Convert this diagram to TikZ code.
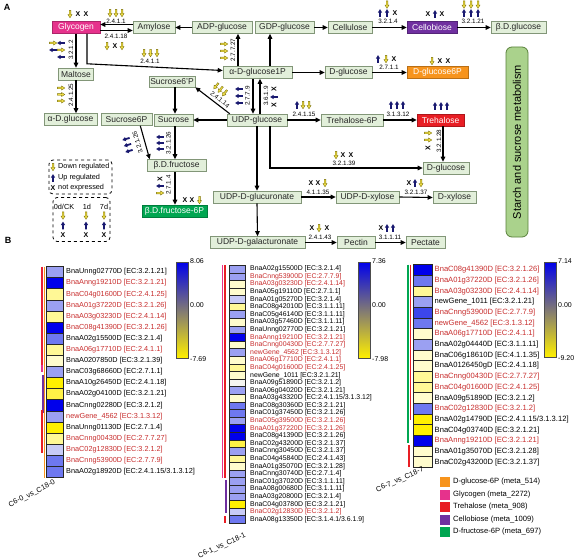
\documentclass[tikz,border=0pt]{standalone}
\usepackage{fontspec}
\setmainfont{Liberation Sans}
\usetikzlibrary{arrows.meta,calc}
\definecolor{boxfill}{RGB}{226,239,218}
\definecolor{boxdraw}{RGB}{130,150,120}
\definecolor{glyc}{RGB}{230,50,140}
\definecolor{cello}{RGB}{112,48,160}
\definecolor{gsixp}{RGB}{247,148,29}
\definecolor{treh}{RGB}{232,30,36}
\definecolor{fsixp}{RGB}{0,166,81}
\definecolor{ylw}{RGB}{240,222,70}
\definecolor{ylwd}{RGB}{130,120,20}
\definecolor{nvy}{RGB}{25,25,112}
\definecolor{rt}{RGB}{200,45,45}
\definecolor{kt}{RGB}{0,0,0}
\definecolor{bfive}{RGB}{0,0,235}
\definecolor{bfour}{RGB}{60,70,235}
\definecolor{bthree}{RGB}{110,120,240}
\definecolor{btwo}{RGB}{155,160,242}
\definecolor{bone}{RGB}{200,203,247}
\definecolor{wzero}{RGB}{245,245,240}
\definecolor{yone}{RGB}{255,252,205}
\definecolor{ytwo}{RGB}{255,248,150}
\definecolor{ythree}{RGB}{255,242,70}
\definecolor{yfour}{RGB}{255,240,0}
\definecolor{starchf}{RGB}{170,210,140}
\definecolor{starchd}{RGB}{90,130,60}
\newcommand\myfs[1]{\fontsize{#1}{#1}\selectfont}
\begin{document}
\begin{tikzpicture}[x=1pt,y=-1pt,
  box/.style={draw=boxdraw, fill=boxfill, line width=0.6pt, minimum height=12pt, inner sep=0pt, font=\myfs{8.5}, text=black!85},
  cbox/.style={box, draw=#1!75!black, fill=#1, text=white},
  ar/.style={line width=1.1pt, -{Triangle[length=5pt,width=4.5pt]}},
  ec/.style={font=\myfs{6.3}, inner sep=0pt},
  lab/.style={inner sep=0pt, anchor=west},
  hcell/.style={draw=black!85, line width=0.5pt, inner sep=0pt},
  dn/.pic={\filldraw[fill=ylw, draw=ylwd, line width=0.4pt] (-0.8,-3.6) -- (0.8,-3.6) -- (0.8,0.6) -- (2,0.6) -- (0,3.8) -- (-2,0.6) -- (-0.8,0.6) -- cycle;},
  up/.pic={\fill[nvy] (-0.9,3.8) -- (0.9,3.8) -- (0.9,-0.4) -- (2.2,-0.4) -- (0,-3.8) -- (-2.2,-0.4) -- (-0.9,-0.4) -- cycle;},
  xx/.pic={\node[font=\myfs{7}\bfseries, inner sep=0pt, transform shape] {X};}
]
\useasboundingbox (0,0) rectangle (581,559);
\fill[white] (0,0) rectangle (581,559);

% ---------- Panel A ----------
\node[font=\myfs{9}\bfseries, inner sep=0pt] (pa) at (7,7) {A};

\node[cbox=glyc, minimum width=48pt] (glycogen) at (76,27.5) {Glycogen};
\node[box, minimum width=42pt] (amylose) at (154,27.5) {Amylose};
\node[box, minimum width=60pt] (adpg) at (222,27.5) {ADP-glucose};
\node[box, minimum width=59pt] (gdpg) at (284.5,27.5) {GDP-glucose};
\node[box, minimum width=44pt] (cellulose) at (350,27.5) {Cellulose};
\node[cbox=cello, minimum width=50pt] (cellobiose) at (432,27.5) {Cellobiose};
\node[box, minimum width=55pt] (bdglc) at (518.5,27.5) {β.D.glucose};
\node[box, minimum width=35pt] (maltose) at (76,74) {Maltose};
\node[box, minimum width=46pt, minimum height=11pt] (suc6pp) at (172,81.5) {Sucrose6'P};
\node[box, minimum width=69pt] (adgonep) at (257.5,72.5) {α-D-glucose1P};
\node[box, minimum width=47pt] (dglc) at (348.5,72.5) {D-glucose};
\node[cbox=gsixp, minimum width=61pt] (dglcsixp) at (437.5,72.5) {D-glucose6P};
\node[box, minimum width=53pt] (adglc) at (70.5,119.5) {α-D.glucose};
\node[box, minimum width=51pt] (sucsixp) at (126.5,119.5) {Sucrose6P};
\node[box, minimum width=39pt] (suc) at (173.5,120) {Sucrose};
\node[box, minimum width=60pt] (udpg) at (257,120) {UDP-glucose};
\node[box, minimum width=62pt] (tresixp) at (352,120) {Trehalose-6P};
\node[cbox=treh, minimum width=47pt] (tre) at (440.5,120) {Trehalose};
\node[box, minimum width=59pt] (bdfru) at (176.5,165.5) {β.D.fructose};
\node[box, minimum width=46pt] (dglctwo) at (446,168) {D-glucose};
\node[cbox=fsixp, minimum width=65pt] (bdfrusixp) at (174.5,211) {β.D.fructose-6P};
\node[box, minimum width=88pt] (udpglca) at (257,197) {UDP-D-glucuronate};
\node[box, minimum width=63pt] (udpxyl) at (367.5,197) {UDP-D-xylose};
\node[box, minimum width=43pt] (dxyl) at (454.5,197.5) {D-xylose};
\node[box, minimum width=95pt] (udpgala) at (257.5,242.5) {UDP-D-galacturonate};
\node[box, minimum width=38pt] (pectin) at (356,242.5) {Pectin};
\node[box, minimum width=39pt] (pectate) at (425.5,242.5) {Pectate};

\node[draw=starchd, fill=starchf, rounded corners=6pt, line width=0.8pt, minimum width=190pt, minimum height=22pt, rotate=90, font=\myfs{11}, inner sep=0pt] (starch) at (517,142) {Starch and sucrose metabolism};

% connectors
\draw[ar] ($(amylose.west)+(0,-3)$) -- ($(glycogen.east)+(0,-3)$);
\draw[ar] ($(glycogen.east)+(0,3)$) -- ($(amylose.west)+(0,3)$);
\draw[ar] (adpg.west) -- (amylose.east);
\draw[ar] (gdpg.east) -- (cellulose.west);
\draw[ar] (cellulose.east) -- (cellobiose.west);
\draw[ar] (cellobiose.east) -- (bdglc.west);
\draw[ar] (glycogen.south) -- (maltose.north);
\draw[ar] ($(glycogen.south)+(11,0)$) -- ++(0,30) -- ($(adgonep.west)+(0,-2)$);
\draw[ar] (maltose.south) -- (maltose.south |- adglc.north);
\coordinate (ca) at ($(adgonep.north)+(-19.5,0)$);
\draw[ar] (ca) -- (ca |- adpg.south);
\coordinate (cb) at ($(adgonep.north)+(12.5,0)$);
\draw[ar] (cb) -- (cb |- gdpg.south);
\draw[ar] (adgonep.east) -- (dglc.west);
\draw[ar] (dglc.east) -- (dglcsixp.west);
\coordinate (cc) at ($(adgonep.south)+(-4.5,0)$);
\draw[ar] (cc) -- (cc |- udpg.north);
\coordinate (cd) at ($(udpg.north)+(3,0)$);
\draw[ar] (cd) -- (cd |- adgonep.south);
\draw[ar] ($(udpg.north west)+(3,0)$) -- (suc6pp.south east);
\coordinate (ce) at ($(suc6pp.south)+(3,0)$);
\draw[ar] (ce) -- (ce |- suc.north);
\draw[ar] (udpg.west) -- (suc.east);
\draw[ar] ($(sucsixp.south east)+(-12,0)$) -- ($(bdfru.north west)+(3,0)$);
\coordinate (cf) at ($(suc.south)+(1.5,0)$);
\draw[ar] (cf) -- (cf |- bdfru.north);
\coordinate (cg) at ($(bdfru.south)+(-1.5,0)$);
\draw[ar] (cg) -- (cg |- bdfrusixp.north);
\draw[ar] (udpg.east) -- (tresixp.west);
\draw[ar] (tresixp.east) -- (tre.west);
\coordinate (ch) at ($(tre.south)+(2.5,0)$);
\draw[ar] (ch) -- (ch |- dglctwo.north);
\coordinate (ci) at ($(udpg.south)+(13,0)$);
\draw[ar] (ci) |- (dglctwo.west);
\draw[ar] (udpg.south) -- (udpglca.north);
\draw[ar] (udpglca.east) -- (udpxyl.west);
\draw[ar] (udpxyl.east) -- (dxyl.west);
\draw[ar] (udpglca.south) -- (udpgala.north);
\draw[ar] (udpgala.east) -- (pectin.west);
\draw[ar] (pectin.east) -- (pectate.west);

% symbol groups and EC numbers
\pic at (70,14) {dn}; \pic at (78,14) {xx}; \pic at (86,14) {xx};
\pic at (110,13) {dn}; \pic at (116,13) {dn}; \pic at (122,13) {dn};
\node[ec] (ea) at (116,21) {2.4.1.1};
\node[ec] (eb) at (116,36.5) {2.4.1.18};
\pic at (107,46) {dn}; \pic at (115,46) {xx}; \pic at (122,46) {dn};
\node[ec, rotate=90] (ec) at (71,50) {3.2.1.2};
\pic[rotate=90] at (53,43) {dn}; \pic[rotate=90] at (61,43) {up};
\pic[rotate=90] at (53,50) {up}; \pic[rotate=90] at (61,50) {dn};
\pic[rotate=90] at (61,57) {up};
\node[ec, rotate=90] (ed) at (71,95) {2.4.1.25};
\pic[rotate=90] at (61,88) {dn}; \pic[rotate=90] at (61,94.5) {dn}; \pic[rotate=90] at (61,101) {dn};
\pic at (144,53) {dn}; \pic at (150.5,53) {dn}; \pic at (157,53) {dn};
\node[ec] (ee) at (150,61.5) {2.4.1.1};
\node[ec, rotate=90] (ef) at (233,50) {2.7.7.27};
\pic[rotate=90] at (224,44) {dn}; \pic[rotate=90] at (224,51) {dn}; \pic[rotate=90] at (224,58) {dn};
\pic at (380,13) {up}; \pic at (387,13) {up}; \pic at (387,4.5) {dn}; \pic at (395,13) {xx};
\node[ec] (eg) at (388,21) {3.2.1.4};
\pic at (428,14) {xx}; \pic at (435,14) {up}; \pic at (442,14) {xx};
\pic at (464,13) {up}; \pic at (471,13) {up}; \pic at (478,13) {up};
\pic at (464,4.5) {dn}; \pic at (471,4.5) {dn}; \pic at (478,4.5) {dn};
\node[ec] (eh) at (473,21) {3.2.1.21};
\pic at (378,59) {up}; \pic at (386,59) {dn}; \pic at (394,59) {xx};
\node[ec] (ei) at (389,67) {2.7.1.1};
\pic at (432,61) {dn}; \pic at (440,61) {xx}; \pic at (448,61) {xx};
\node[ec, rotate=90] (ej) at (247.5,96) {2.7.7.9};
\pic[rotate=90] at (239,89) {up}; \pic[rotate=90] at (239,96) {up}; \pic[rotate=90] at (239,103) {up};
\node[ec, rotate=90] (ek) at (266,96) {3.6.1.9};
\pic[rotate=90] at (274,89) {xx}; \pic[rotate=90] at (274,97) {up}; \pic[rotate=90] at (274,105) {xx};
\node[ec, rotate=-39] (el) at (220,99.5) {2.4.1.14};
\pic[rotate=-39] at (216.1,86) {dn}; \pic[rotate=-39] at (220.4,89.5) {dn}; \pic[rotate=-39] at (224.7,93) {dn};
\node[ec, rotate=107] (em) at (137.5,142.5) {3.2.1.26};
\pic[rotate=107] at (126,139) {up}; \pic[rotate=107] at (127.5,145) {up}; \pic[rotate=107] at (129,151) {up};
\node[ec, rotate=90] (en) at (168.5,143) {3.2.1.26};
\pic[rotate=90] at (160,137) {up}; \pic[rotate=90] at (160,143) {up}; \pic[rotate=90] at (160,149) {up};
\node[ec, rotate=90] (eo) at (168.5,185) {2.7.1.4};
\pic[rotate=90] at (160,179) {xx}; \pic[rotate=90] at (160,186) {up}; \pic[rotate=90] at (160,193) {dn};
\pic at (185,200) {xx}; \pic at (192,200) {xx}; \pic at (199.5,200) {dn};
\pic at (297,105) {up}; \pic at (303,105) {dn}; \pic at (309,105) {dn};
\node[ec] (ep) at (304,114.5) {2.4.1.15};
\pic at (391,105) {up}; \pic at (397,105) {up}; \pic at (403,105) {up};
\node[ec] (eq) at (398,114.5) {3.1.3.12};
\pic at (435,106) {up}; \pic at (441,106) {up}; \pic at (447,106) {up};
\node[ec, rotate=90] (er) at (439,141) {3.2.1.28};
\pic[rotate=90] at (428,133) {dn}; \pic[rotate=90] at (428,140) {dn}; \pic[rotate=90] at (428,148) {xx};
\pic at (336,155) {dn}; \pic at (343,155) {xx}; \pic at (351,155) {xx};
\node[ec] (es) at (344,163) {3.2.1.39};
\pic at (311,183) {xx}; \pic at (318,183) {xx}; \pic at (325,183) {dn};
\node[ec] (et) at (318,192) {4.1.1.35};
\pic at (409,183) {xx}; \pic at (415,183) {up}; \pic at (421,183) {dn};
\node[ec] (eu) at (416,192) {3.2.1.37};
\pic at (312,228) {xx}; \pic at (319,228) {dn}; \pic at (327,228) {xx};
\node[ec] (ev) at (320,237) {2.4.1.43};
\pic at (381,228) {xx}; \pic at (387,228) {up}; \pic at (393,228) {up};
\node[ec] (ew) at (390,237) {3.1.1.11};

% legends
\node[draw, dashed, rounded corners=4pt, line width=0.8pt, minimum width=63pt, minimum height=34pt, inner sep=0pt] (legone) at (80.5,177) {};
\pic at (53,167) {dn}; \node[lab, font=\myfs{7.3}] (lgdn) at (58,167) {Down regulated};
\pic at (53,178) {up}; \node[lab, font=\myfs{7.3}] (lgup) at (58,178) {Up regulated};
\pic at (53,188) {xx}; \node[lab, font=\myfs{7.3}] (lgx) at (58,188) {not expressed};
\node[draw, dashed, rounded corners=4pt, line width=0.8pt, minimum width=57pt, minimum height=44pt, inner sep=0pt] (legtwo) at (81.5,219.5) {};
\node[font=\myfs{7.3}, inner sep=0pt] (lgz) at (64,206.5) {0d/CK};
\node[font=\myfs{7.3}, inner sep=0pt] (lgo) at (87,206.5) {1d};
\node[font=\myfs{7.3}, inner sep=0pt] (lgs) at (104,206.5) {7d};
\foreach \xx in {63,86,104}{\pic at (\xx,215.5) {dn}; \pic at (\xx,225.5) {up}; \pic at (\xx,235) {xx};}

% ---------- Panel B ----------
\node[font=\myfs{9}\bfseries, inner sep=0pt] (pb) at (8,240) {B};

% heatmap 1
\draw[line width=2pt, treh!85!glyc] (41.5,266.5) -- (41.5,365);
\draw[line width=1.5pt, gsixp] (44.5,266.5) -- (44.5,477.5);
\draw[line width=2pt, glyc] (41.5,365) -- (41.5,372);
\draw[line width=2pt, cello] (43,375) -- (43,413);
\draw[line width=2pt, treh] (41.5,410) -- (41.5,453);
\foreach \f/\tc/\t [count=\i from 0] in {
 btwo/kt/BnaUnng02770D [EC:3.2.1.21],
 bfive/rt/BnaAnng19210D [EC:3.2.1.21],
 ytwo/rt/BnaC04g01600D [EC:2.4.1.25],
 btwo/rt/BnaA01g37220D [EC:3.2.1.26],
 ytwo/rt/BnaA03g03230D [EC:2.4.1.14],
 bfive/rt/BnaC08g41390D [EC:3.2.1.26],
 bthree/kt/BnaA02g15500D [EC:3.2.1.4],
 ytwo/rt/BnaA06g17710D [EC:2.4.1.1],
 yone/kt/BnaA0207850D [EC:3.2.1.39],
 btwo/kt/BnaC03g68660D [EC:2.7.1.1],
 yfour/kt/BnaA10g26450D [EC:2.4.1.18],
 ythree/kt/BnaA02g04100D [EC:3.2.1.21],
 bfive/kt/BnaCnng02280D [EC:3.2.1.2],
 btwo/rt/newGene\_4562 [EC:3.1.3.12],
 yfour/kt/BnaUnng01130D [EC:2.7.1.4],
 ytwo/rt/BnaCnng00430D [EC:2.7.7.27],
 bone/rt/BnaC02g12830D [EC:3.2.1.2],
 bthree/rt/BnaCnng53900D [EC:2.7.7.9],
 bthree/kt/{BnaA02g18920D [EC:2.4.1.15/3.1.3.12]}}{
 \node[hcell, fill=\f, minimum width=17pt, minimum height=11.1pt] (ha\i) at (54.5,{272+11.1*\i}) {};
 \node[lab, text=\tc, font=\myfs{7.3}] (hta\i) at (66,{272+11.1*\i}) {\t};
}
\node[rotate=27, font=\myfs{7.3}, inner sep=0pt] (hna) at (32,494) {C6-0\_vs\_C18-0};
\shade[top color=bfive, middle color=white, bottom color=yfour] (176,262) rectangle (188,358);
\node[draw=black!70, line width=0.5pt, minimum width=12pt, minimum height=96pt, inner sep=0pt] (cba) at (182,310) {};
\node[lab, font=\myfs{7}] (cbat) at (190,261) {8.06};
\node[lab, font=\myfs{7}] (cbam) at (190,305) {0.00};
\node[lab, font=\myfs{7}] (cbab) at (190,359) {-7.69};

% heatmap 2
\draw[line width=1pt, glyc] (222.5,265.2) -- (222.5,478);
\draw[line width=2pt, treh] (225,265.2) -- (225,478);
\draw[line width=2pt, cello] (225.5,480) -- (225.5,513);
\draw[line width=2pt, treh] (225,516) -- (225,523.3);
\foreach \f/\tc/\t [count=\i from 0] in {
 btwo/kt/BnaA02g15500D [EC:3.2.1.4],
 btwo/rt/BnaCnng53900D [EC:2.7.7.9],
 yone/rt/BnaA03g03230D [EC:2.4.1.14],
 yone/kt/BnaA05g19110D [EC:2.7.1.1],
 bone/kt/BnaA01g05270D [EC:3.2.1.4],
 ytwo/kt/BnaC08g42010D [EC:3.1.1.11],
 btwo/kt/BnaC05g46140D [EC:3.1.1.11],
 yone/kt/BnaA03g57460D [EC:3.1.1.11],
 btwo/kt/BnaUnng02770D [EC:3.2.1.21],
 bfive/rt/BnaAnng19210D [EC:3.2.1.21],
 yone/rt/BnaCnng00430D [EC:2.7.7.27],
 btwo/rt/newGene\_4562 [EC:3.1.3.12],
 yone/rt/BnaA06g17710D [EC:2.4.1.1],
 ytwo/rt/BnaC04g01600D [EC:2.4.1.25],
 yone/kt/newGene\_1011 [EC:3.2.1.21],
 wzero/kt/BnaA09g51890D [EC:3.2.1.2],
 btwo/kt/BnaA06g04020D [EC:3.2.1.21],
 yone/kt/{BnaA03g43320D [EC:2.4.1.15/3.1.3.12]},
 bthree/kt/BnaC08g30360D [EC:3.2.1.21],
 bthree/kt/BnaC01g37450D [EC:3.2.1.26],
 btwo/rt/BnaC05g39500D [EC:3.2.1.26],
 bfive/rt/BnaA01g37220D [EC:3.2.1.26],
 bfive/kt/BnaC08g41390D [EC:3.2.1.26],
 ythree/kt/BnaC02g43200D [EC:3.2.1.37],
 btwo/kt/BnaCnng30450D [EC:3.2.1.37],
 ytwo/kt/BnaC04g45840D [EC:2.4.1.43],
 yone/kt/BnaA01g35070D [EC:3.2.1.28],
 btwo/kt/BnaCnng30740D [EC:2.7.1.4],
 btwo/kt/BnaC01g37020D [EC:3.1.1.11],
 btwo/kt/BnaA08g00680D [EC:3.1.1.11],
 btwo/kt/BnaA03g20800D [EC:3.2.1.4],
 yfour/kt/BnaC04g03780D [EC:3.2.1.21],
 bone/rt/BnaC02g12830D [EC:3.2.1.2],
 bthree/kt/{BnaA08g13350D [EC:3.1.4.1/3.6.1.9]}}{
 \node[hcell, fill=\f, minimum width=16pt, minimum height=7.59pt] (hb\i) at (237,{269+7.59*\i}) {};
 \node[lab, text=\tc, font=\myfs{6.9}] (htb\i) at (250,{269+7.59*\i}) {\t};
}
\node[rotate=24, font=\myfs{7.3}, inner sep=0pt] (hnb) at (222,546) {C6-1\_vs\_C18-1};
\shade[top color=bfive, middle color=white, bottom color=yfour] (358,262) rectangle (370,358);
\node[draw=black!70, line width=0.5pt, minimum width=12pt, minimum height=96pt, inner sep=0pt] (cbb) at (364,310) {};
\node[lab, font=\myfs{7}] (cbbt) at (372,261) {7.36};
\node[lab, font=\myfs{7}] (cbbm) at (372,305) {0.00};
\node[lab, font=\myfs{7}] (cbbb) at (372,359) {-7.98};

% heatmap 3
\draw[line width=2pt, fsixp] (408,264.7) -- (408,443);
\draw[line width=1.5pt, treh] (410.5,264.7) -- (410.5,420);
\draw[line width=2pt, treh] (408.5,445) -- (408.5,467.3);
\foreach \f/\tc/\t [count=\i from 0] in {
 bfive/rt/BnaC08g41390D [EC:3.2.1.26],
 bthree/rt/BnaA01g37220D [EC:3.2.1.26],
 ytwo/rt/BnaA03g03230D [EC:2.4.1.14],
 btwo/kt/newGene\_1011 [EC:3.2.1.21],
 bfour/rt/BnaCnng53900D [EC:2.7.7.9],
 bthree/rt/newGene\_4562 [EC:3.1.3.12],
 yone/rt/BnaA06g17710D [EC:2.4.1.1],
 btwo/kt/BnaA02g04440D [EC:3.1.1.11],
 yone/kt/BnaC06g18610D [EC:4.1.1.35],
 yone/kt/BnaA0126450gD [EC:2.4.1.18],
 ytwo/rt/BnaCnng00430D [EC:2.7.7.27],
 ytwo/rt/BnaC04g01600D [EC:2.4.1.25],
 yone/kt/BnaA09g51890D [EC:3.2.1.2],
 bthree/rt/BnaC02g12830D [EC:3.2.1.2],
 yfour/kt/{BnaA02g14790D [EC:2.4.1.15/3.1.3.12]},
 yfour/kt/BnaC04g03740D [EC:3.2.1.21],
 bfive/rt/BnaAnng19210D [EC:3.2.1.21],
 yone/kt/BnaA01g35070D [EC:3.2.1.28],
 yone/kt/BnaC02g43200D [EC:3.2.1.37]}{
 \node[hcell, fill=\f, minimum width=19pt, minimum height=10.67pt] (hc\i) at (422.5,{270+10.67*\i}) {};
 \node[lab, text=\tc, font=\myfs{7.6}] (htc\i) at (434.5,{270+10.67*\i}) {\t};
}
\node[rotate=24, font=\myfs{7.3}, inner sep=0pt] (hnc) at (400,480) {C6-7\_vs\_C18-7};
\shade[top color=bfive, middle color=white, bottom color=yfour] (544,262) rectangle (556,357);
\node[draw=black!70, line width=0.5pt, minimum width=12pt, minimum height=95pt, inner sep=0pt] (cbc) at (550,309.5) {};
\node[lab, font=\myfs{7}] (cbct) at (558,261) {7.14};
\node[lab, font=\myfs{7}] (cbcm) at (558,305) {0.00};
\node[lab, font=\myfs{7}] (cbcb) at (558,358) {-9.20};

% metabolite legend
\foreach \c/\t [count=\i from 0] in {gsixp/D-glucose-6P (meta\_514), glyc/Glycogen (meta\_2272), treh/Trehalose (meta\_908), cello/Cellobiose (meta\_1009), fsixp/D-fructose-6P (meta\_697)}{
 \node[fill=\c, minimum size=10pt, inner sep=0pt] (lgs\i) at (445,{482+12.5*\i}) {};
 \node[lab, font=\myfs{7.6}] (lgt\i) at (453,{482+12.5*\i}) {\t};
}
\end{tikzpicture}
\end{document}
